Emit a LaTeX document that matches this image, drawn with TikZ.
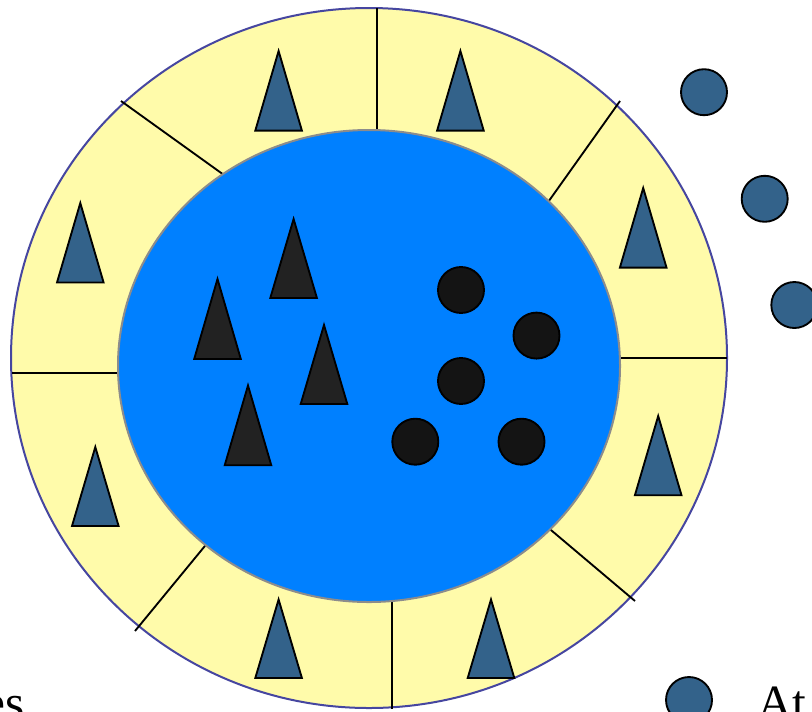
\documentclass[tikz,border=0pt]{standalone}
\usepackage{fontspec}
\setmainfont{Liberation Serif}
\definecolor{ringyellow}{RGB}{255,251,170}
\definecolor{ringedge}{RGB}{70,70,160}
\definecolor{coreblue}{RGB}{0,128,255}
\definecolor{coreedge}{RGB}{140,140,140}
\definecolor{triblue}{RGB}{51,98,138}
\definecolor{dark}{RGB}{34,34,34}
\definecolor{darkdot}{RGB}{20,20,20}
\tikzset{
  ring/.style={fill=ringyellow,draw=ringedge,line width=1.5pt},
  core/.style={fill=coreblue,draw=coreedge,line width=1.5pt},
  divider/.style={draw=black,line width=1.4pt},
  ringtri/.style={fill=triblue,draw=black,line width=1.4pt,line join=miter},
  coretri/.style={fill=dark,draw=black,line width=1.4pt,line join=miter},
  coredot/.style={fill=darkdot,draw=black,line width=1.4pt},
  freedot/.style={fill=triblue,draw=black,line width=1.4pt},
  legend/.style={font=\fontsize{37}{42}\selectfont,inner sep=0pt}
}
\begin{document}
\begin{tikzpicture}[x=0.75pt,y=-0.75pt]
\useasboundingbox (0,0) rectangle (812,711);
\clip (0,0) rectangle (812,711);
% outer ring
\draw[ring] (369,358) ellipse [x radius=358, y radius=350];
% dividers
\draw[divider] (377,8) -- (377,131);
\draw[divider] (121,101) -- (224,175);
\draw[divider] (620,101) -- (546,205);
\draw[divider] (12,373) -- (119,373);
\draw[divider] (620,358) -- (727,358);
\draw[divider] (135,631) -- (209,541);
\draw[divider] (545,525) -- (635,601);
\draw[divider] (392,601) -- (392,709);
% core
\draw[core] (369,366) ellipse [x radius=251, y radius=236];
% ring triangles: apex x, apex y, base y
\foreach \x/\a/\b in {278.6/51/130.6, 460.4/51/130.6, 80.3/203/282.5, 643.2/188/267.6,
  95.3/447/526, 658.2/416/495.2, 278.6/599.5/678, 491/599.5/678}
  \draw[ringtri] (\x,\a) -- (\x+23.3,\b) -- (\x-23.3,\b) -- cycle;
% core triangles
\foreach \x/\a/\b in {293.6/219/298, 217.5/279/359, 324/325/404, 248/385.5/465.3}
  \draw[coretri] (\x,\a) -- (\x+23.3,\b) -- (\x-23.3,\b) -- cycle;
% core dots
\foreach \x/\y in {461/290, 536.5/335.6, 461/381, 415.3/441.7, 521.5/441.7}
  \draw[coredot] (\x,\y) circle [radius=23];
% free dots
\foreach \x/\y in {704/92.2, 764.7/198.8, 794.3/305, 689/700}
  \draw[freedot] (\x,\y) circle [radius=23];
% legend texts
\node[legend,anchor=base east] (t1) at (25,719) {es};
\node[legend,anchor=base west] (t2) at (757,719) {At};
\end{tikzpicture}
\end{document}
